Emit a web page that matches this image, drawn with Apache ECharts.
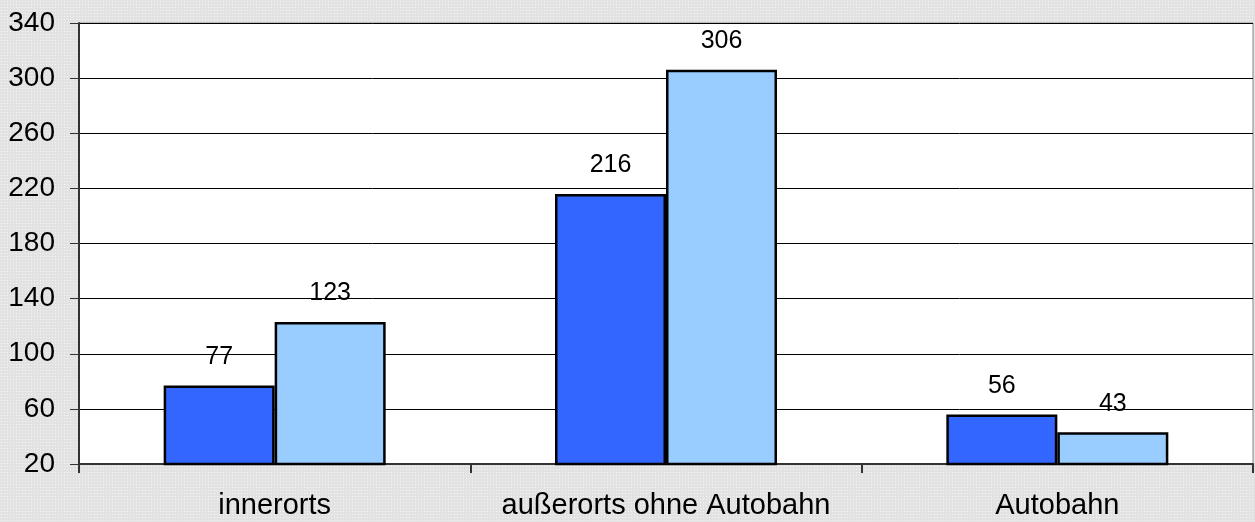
<!DOCTYPE html>
<html>
<head>
<meta charset="utf-8">
<script src="https://cdn.jsdelivr.net/npm/echarts@6/dist/echarts.min.js"></script>
<style>
html, body { margin: 0; padding: 0; }
#chart {
  width: 1255px; height: 522px;
  background-color: #e2e2e2;
  background-image: radial-gradient(circle, #f4f4f4 0.8px, transparent 0.9px);
  background-size: 3px 3px;
}
</style>
</head>
<body>
<div id="chart"></div>
<script>
const categories = ['innerorts', 'außerorts ohne Autobahn', 'Autobahn'];
const seriesA = [77, 216, 56];
const seriesB = [123, 306, 43];
const yTicks = { min: 20, max: 340, interval: 40 };

const chart = echarts.init(document.getElementById('chart'), null, { renderer: 'canvas' });
const font = 'Liberation Sans, Arial, sans-serif';
const labelCfg = {
  show: true, position: 'top', distance: 16,
  color: '#000', fontFamily: font, fontSize: 25
};
chart.setOption({
  backgroundColor: 'transparent',
  animation: false,
  grid: {
    left: 79, right: 2, top: 23, bottom: 58,
    show: true, backgroundColor: '#fff', borderColor: '#888', borderWidth: 1
  },
  xAxis: {
    type: 'category',
    data: categories,
    boundaryGap: true,
    axisLine: { show: true, lineStyle: { color: '#333', width: 2 } },
    axisTick: { show: true, length: 9, interval: 0, lineStyle: { color: '#333', width: 2 } },
    axisLabel: { color: '#000', fontFamily: font, fontSize: 29, margin: 27, interval: 0 }
  },
  yAxis: {
    type: 'value',
    min: yTicks.min, max: yTicks.max, interval: yTicks.interval,
    axisLine: { show: true, lineStyle: { color: '#333', width: 2 } },
    axisTick: { show: true, length: 9, lineStyle: { color: '#333', width: 1 } },
    axisLabel: { color: '#000', fontFamily: font, fontSize: 28, margin: 24 },
    splitLine: { show: true, lineStyle: { color: '#000', width: 1 } }
  },
  series: [
    {
      type: 'bar', data: seriesA, barWidth: 111, barGap: '0%',
      itemStyle: { color: '#3366ff', borderColor: '#000', borderWidth: 2.5 },
      label: labelCfg
    },
    {
      type: 'bar', data: seriesB, barWidth: 111, barGap: '0%',
      itemStyle: { color: '#99ccff', borderColor: '#000', borderWidth: 2.5 },
      label: labelCfg
    }
  ]
});
</script>
</body>
</html>
